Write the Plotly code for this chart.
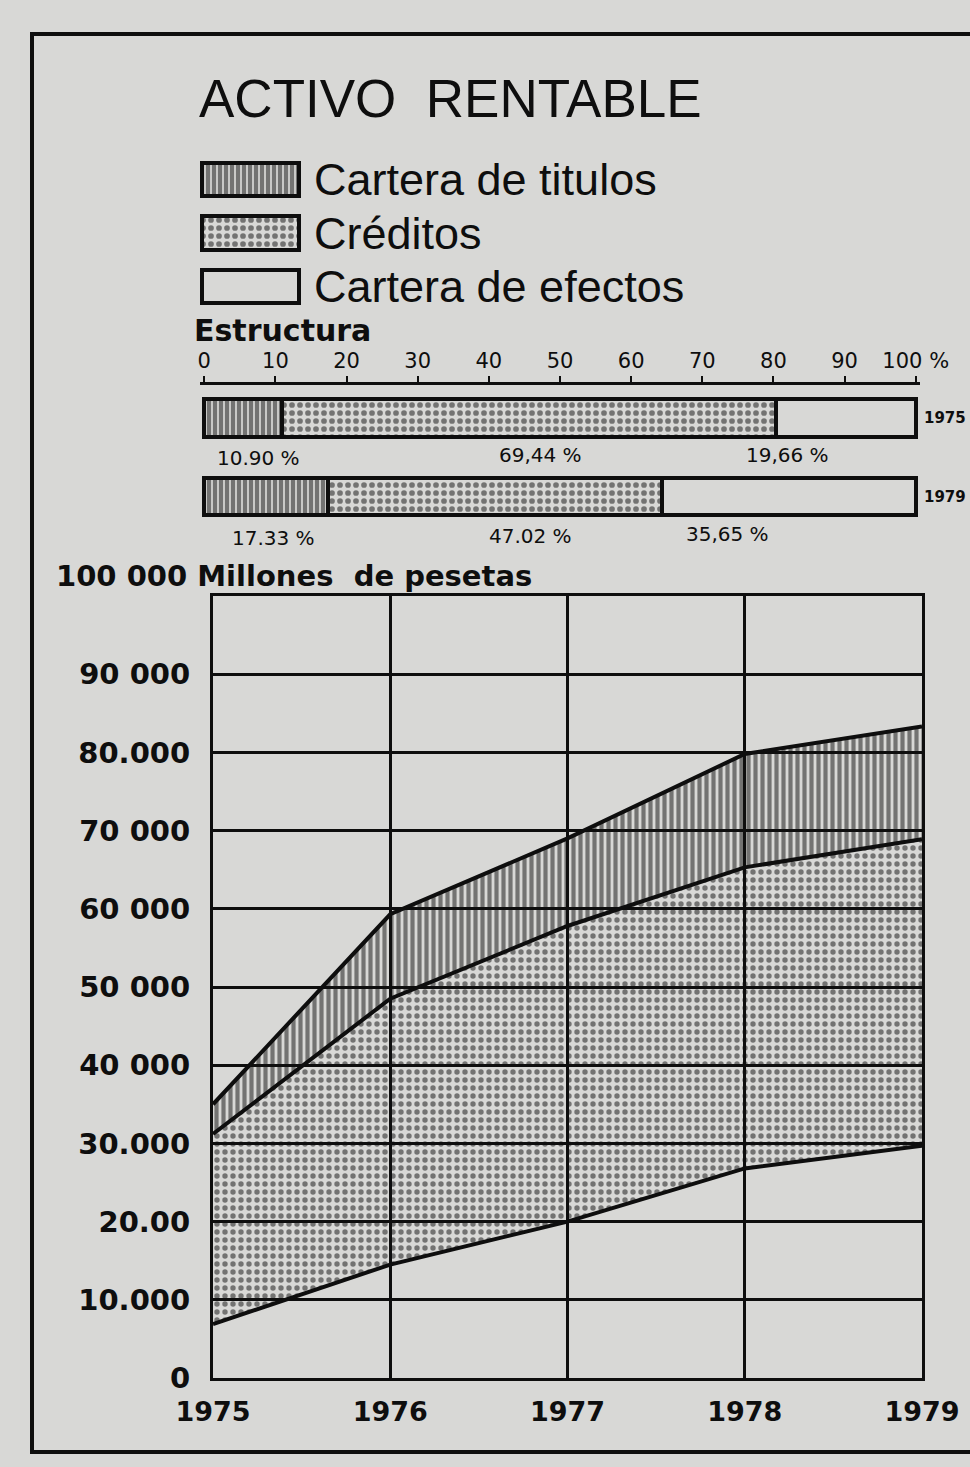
import plotly.graph_objects as go

# ---------------- data ----------------
years = [1975, 1976, 1977, 1978, 1979]
efectos = [6900, 14500, 20000, 26800, 29700]      # Cartera de efectos
creditos = [24300, 34000, 37800, 38500, 39200]    # Créditos
titulos = [3800, 10800, 11200, 14500, 14400]      # Cartera de titulos

series_names = ["Cartera de titulos", "Créditos", "Cartera de efectos"]

struct_years = ["1975", "1979"]
titulos_pct = [10.90, 17.33]
creditos_pct = [69.44, 47.02]
efectos_pct = [19.66, 35.65]
struct_label_text = [["10.90 %", "69,44 %", "19,66 %"],
                     ["17.33 %", "47.02 %", "35,65 %"]]

y_tick_vals = [0, 10000, 20000, 30000, 40000, 50000, 60000, 70000, 80000, 90000]
y_tick_text = ["0", "10.000", "20.00", "30.000", "40 000", "50 000",
               "60 000", "70 000", "80.000", "90 000"]
pct_tick_vals = [0, 10, 20, 30, 40, 50, 60, 70, 80, 90, 100]
pct_tick_text = ["0", "10", "20", "30", "40", "50", "60", "70", "80", "90", "100 %"]

# ---------------- style ----------------
W, H = 970, 1467
BG = "#d8d8d6"
INK = "#0e0e0e"

def px_x(p):
    return p / W

def px_y(p):
    return 1 - p / H

fig = go.Figure()

# main stacked areas
fig.add_trace(go.Scatter(
    x=years, y=efectos, name=series_names[2], stackgroup="one",
    mode="lines", line=dict(color=INK, width=4),
    fillcolor="rgba(0,0,0,0)", showlegend=False, hoverinfo="skip"))
fig.add_trace(go.Scatter(
    x=years, y=creditos, name=series_names[1], stackgroup="one",
    mode="lines", line=dict(color=INK, width=4),
    fillcolor="rgba(0,0,0,0)",
    fillpattern=dict(shape=".", fgcolor=INK, bgcolor="rgba(0,0,0,0)",
                     size=8, solidity=0.36),
    showlegend=False, hoverinfo="skip"))
fig.add_trace(go.Scatter(
    x=years, y=titulos, name=series_names[0], stackgroup="one",
    mode="lines", line=dict(color=INK, width=4),
    fillcolor="rgba(0,0,0,0)",
    fillpattern=dict(shape="|", fgcolor=INK, bgcolor="rgba(0,0,0,0)",
                     size=7, solidity=0.6),
    showlegend=False, hoverinfo="skip"))

# structure bars
bar_styles = [
    (titulos_pct, series_names[0], dict(shape="|", fgcolor=INK, bgcolor=BG, size=6, solidity=0.72)),
    (creditos_pct, series_names[1], dict(shape=".", fgcolor=INK, bgcolor=BG, size=8, solidity=0.4)),
    (efectos_pct, series_names[2], dict(shape="", fgcolor=INK, bgcolor=BG)),
]
for vals, nm, pat in bar_styles:
    fig.add_trace(go.Bar(
        x=vals, y=[0, 1], orientation="h", name=nm, width=0.48,
        marker=dict(color=BG, line=dict(color=INK, width=4), pattern=pat),
        xaxis="x2", yaxis="y2", showlegend=False, hoverinfo="skip"))

# legend swatches as a small bar chart
fig.add_trace(go.Bar(
    x=[1, 1, 1], y=series_names, orientation="h", width=0.62,
    marker=dict(color=BG, line=dict(color=INK, width=4),
                pattern=dict(shape=["|", ".", ""], fgcolor=INK, bgcolor=BG,
                             size=[6, 8, 8], solidity=[0.72, 0.4, 0.3])),
    xaxis="x3", yaxis="y3", showlegend=False, hoverinfo="skip"))

tick_font_main = dict(family="DejaVu Sans", size=29, color=INK, weight="bold")

fig.update_layout(
    width=W, height=H,
    margin=dict(l=0, r=0, t=0, b=0, autoexpand=False),
    paper_bgcolor=BG, plot_bgcolor=BG,
    barmode="stack", bargap=0,
    showlegend=False,
    title=dict(text="ACTIVO  RENTABLE", x=px_x(199), xanchor="left",
               y=px_y(98), yanchor="middle",
               font=dict(family="Liberation Sans", size=53, color=INK)),
    xaxis=dict(domain=[px_x(213), px_x(922)], range=[1975, 1979], automargin=False,
               tickvals=years, ticktext=[str(y) for y in years],
               showgrid=True, gridcolor=INK, gridwidth=3,
               showline=True, mirror=True, linecolor=INK, linewidth=3,
               zeroline=False, ticks="", ticklabelstandoff=8,
               tickfont=dict(family="DejaVu Sans", size=27, color=INK, weight="bold")),
    yaxis=dict(domain=[px_y(1378), px_y(596)], range=[0, 100000], automargin=False,
               tickvals=y_tick_vals, ticktext=y_tick_text,
               showgrid=True, gridcolor=INK, gridwidth=2.5,
               showline=True, mirror=True, linecolor=INK, linewidth=3,
               zeroline=False, ticks="", ticklabelstandoff=14,
               tickfont=tick_font_main),
    xaxis2=dict(domain=[px_x(200), px_x(920)], range=[-0.6, 100.6], automargin=False,
                anchor="y2", side="top", tickvals=pct_tick_vals, ticktext=pct_tick_text,
                showgrid=False, zeroline=False, showline=True, linecolor=INK, linewidth=3,
                ticks="outside", ticklen=6, tickwidth=2, tickcolor=INK,
                tickfont=dict(family="DejaVu Sans", size=21, color=INK)),
    yaxis2=dict(domain=[px_y(545), px_y(385)], range=[1.62, -0.42], automargin=False,
                anchor="x2", side="right", tickvals=[0, 1], ticktext=struct_years,
                showgrid=False, zeroline=False, showline=False, ticks="",
                ticklabelstandoff=3,
                tickfont=dict(family="DejaVu Sans", size=15, color=INK, weight="bold")),
    xaxis3=dict(domain=[px_x(199), px_x(302)], range=[-0.03, 1.03], anchor="y3",
                automargin=False, visible=False),
    yaxis3=dict(domain=[px_y(314), px_y(152)], anchor="x3", automargin=False,
                autorange="reversed", visible=False),
)

annotations = [
    dict(text="Estructura", x=px_x(192), y=px_y(331), xref="paper", yref="paper",
         xanchor="left", yanchor="middle", showarrow=False,
         font=dict(family="DejaVu Sans", size=30, color=INK, weight="bold")),
    dict(text="100 000 Millones  de pesetas", x=px_x(54), y=px_y(576),
         xref="paper", yref="paper", xanchor="left", yanchor="middle", showarrow=False,
         font=tick_font_main),
]
# legend labels next to the swatches
for nm in series_names:
    annotations.append(dict(
        text=nm, x=1.03, xref="x3", y=nm, yref="y3", xanchor="left", yanchor="middle",
        xshift=10, showarrow=False,
        font=dict(family="Liberation Sans", size=45, color=INK)))

label_pos = [[(7.6, 458), (47.2, 455), (82.0, 455)],
             [(9.7, 538), (45.8, 536), (73.6, 534)]]
for r in range(2):
    for c in range(3):
        xp, yp = label_pos[r][c]
        annotations.append(dict(
            text=struct_label_text[r][c], x=xp, xref="x2", y=px_y(yp), yref="paper",
            xanchor="center", yanchor="middle", showarrow=False,
            font=dict(family="DejaVu Sans", size=20, color=INK)))
fig.update_layout(annotations=annotations)

fig.add_shape(type="rect", xref="paper", yref="paper",
              x0=px_x(32), x1=1.05, y0=px_y(1452), y1=px_y(34),
              line=dict(color=INK, width=4), layer="below")

fig.write_html("out.html", config={"displayModeBar": False},
               post_script="document.body.style.margin='0px';")
